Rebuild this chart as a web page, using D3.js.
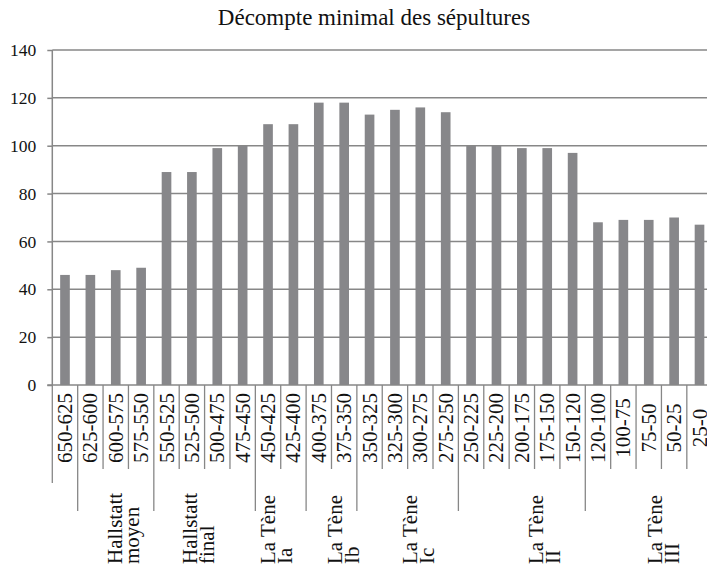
<!DOCTYPE html>
<html>
<head>
<meta charset="utf-8">
<script src="https://cdn.jsdelivr.net/npm/d3@7"></script>
<style>
  html, body { margin: 0; padding: 0; background: #fff; }
  svg { display: block; }
</style>
</head>
<body>
<svg id="chart" width="707" height="568"></svg>
<script>
// ---- Data ----
const title = "Décompte minimal des sépultures";
const categories = ["650-625","625-600","600-575","575-550","550-525","525-500","500-475","475-450",
  "450-425","425-400","400-375","375-350","350-325","325-300","300-275","275-250",
  "250-225","225-200","200-175","175-150","150-120","120-100","100-75","75-50","50-25","25-0"];
const values = [46,46,48,49,89,89,99,100,109,109,118,118,113,115,116,114,100,100,99,99,97,68,69,69,70,67];
const yTicks = [0,20,40,60,80,100,120,140];
const groupNames = [["Hallstatt","moyen"],["Hallstatt","final"],["La Tène","Ia"],["La Tène","Ib"],
  ["La Tène","Ic"],["La Tène","II"],["La Tène","III"]];
const groupStart = [1,4,8,10,12,16,21];
const groupEnd = [3,7,9,11,15,20,25];

// ---- Layout ----
const FONT = '"Liberation Serif"';
const L = { left: 52.3, right: 712.2, top: 50, bottom: 385, catRowBottom: 469, firstLineBottom: 483,
  groupLineBottom: 511, groupTextStart: 564, lineGap: 17 };
const groupOffsets = [6,-8,-5.7,10.3,9.1,21.5,13];
const lineColor = "#878787", barColor = "#87878a", textColor = "#111";

const svg = d3.select("#chart");
const x = d3.scaleBand().domain(categories).range([L.left, L.right]).paddingInner(0.62).paddingOuter(0.31);
const step = x.step();
const edge = i => L.left + i * step;
const y = d3.scaleLinear().domain([0, 140]).range([L.bottom, L.top]);

// gridlines
svg.append("g").selectAll("line").data(yTicks.filter(d => d > 0)).join("line")
  .attr("x1", L.left).attr("x2", 707).attr("y1", d => y(d)).attr("y2", d => y(d))
  .attr("stroke", lineColor).attr("stroke-width", 1.5);

// bars
svg.append("g").selectAll("rect").data(values).join("rect")
  .attr("x", (d, i) => x(categories[i])).attr("width", x.bandwidth())
  .attr("y", d => y(d)).attr("height", d => y(0) - y(d))
  .attr("fill", barColor);

// y axis
const yAxis = d3.axisLeft(y).tickValues(yTicks).tickSize(5).tickPadding(10);
const ya = svg.append("g").attr("transform", `translate(${L.left},0)`).call(yAxis);
ya.attr("font-family", null).attr("font-size", null);
ya.select(".domain").remove();
ya.selectAll(".tick line").attr("stroke", lineColor).attr("stroke-width", 1.5);
ya.selectAll(".tick text").attr("font-size", 17.5).attr("font-family", "Liberation Serif").style("font-family", FONT).attr("fill", textColor).attr("x", -16);
svg.append("line").attr("x1", L.left).attr("x2", L.left).attr("y1", y(140)).attr("y2", L.bottom)
  .attr("stroke", lineColor).attr("stroke-width", 1.5);
// x axis line
svg.append("line").attr("x1", L.left - 5).attr("x2", 707).attr("y1", L.bottom).attr("y2", L.bottom)
  .attr("stroke", lineColor).attr("stroke-width", 1.5);

// category dividers
const dividers = d3.range(categories.length + 1);
svg.append("g").selectAll("line").data(dividers).join("line")
  .attr("x1", i => edge(i)).attr("x2", i => edge(i))
  .attr("y1", L.bottom)
  .attr("y2", i => i === 0 ? L.firstLineBottom : (groupStart.includes(i) ? L.groupLineBottom : L.catRowBottom))
  .attr("stroke", lineColor).attr("stroke-width", 1.3);

// category labels
svg.append("g").selectAll("text").data(categories).join("text")
  .attr("transform", d => `translate(${x(d) + x.bandwidth() / 2},${(L.bottom + L.catRowBottom) / 2 + 1}) rotate(-90)`)
  .attr("text-anchor", "middle").attr("dominant-baseline", "central")
  .attr("font-family", "Liberation Serif").style("font-family", FONT).attr("fill", textColor)
  .attr("font-size", 21).text(d => d);

// group labels
groupNames.forEach((g, k) => {
  const cx = (edge(groupStart[k]) + edge(groupEnd[k] + 1)) / 2 + groupOffsets[k];
  const t = svg.append("text")
    .attr("transform", `translate(${cx},${L.groupTextStart}) rotate(-90)`)
    .attr("text-anchor", "start").attr("font-size", 21)
    .attr("font-family", "Liberation Serif").style("font-family", FONT).attr("fill", textColor);
  g.forEach((line, j) => t.append("tspan").attr("x", 0).attr("dy", j === 0 ? 0 : L.lineGap).text(line));
});

// title
svg.append("text").attr("x", 374).attr("y", 25).attr("text-anchor", "middle")
  .attr("font-family", "Liberation Serif").style("font-family", FONT).attr("fill", textColor)
  .attr("font-size", 23).text(title);

// force text layout with the chosen font
svg.selectAll("text").each(function () { this.getComputedTextLength(); });
</script>
</body>
</html>
